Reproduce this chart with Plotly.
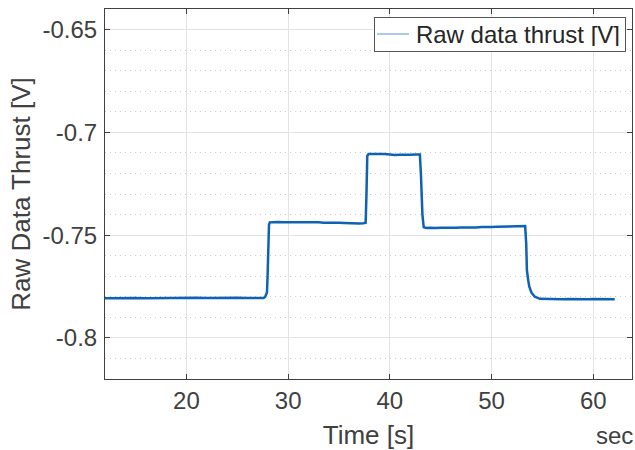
import plotly.graph_objects as go

# Thrust-sensor raw voltage trace: baseline, three load steps, return to baseline
time_s = [
    12.0, 13.0, 14.0, 15.0, 16.0, 17.0, 18.0, 19.0, 20.0, 21.0, 22.0, 23.0,
    24.0, 25.0, 26.0, 27.0, 27.59, 27.75, 27.92, 27.98, 28.05, 28.12, 28.2,
    28.5, 29.0, 29.5, 30.0, 30.5, 31.0, 31.5, 32.0, 32.5, 33.0, 33.5, 34.0,
    34.5, 35.0, 35.5, 36.0, 36.5, 37.0, 37.4, 37.62, 37.7, 37.78, 37.9,
    38.2, 38.5, 39.0, 39.5, 40.0, 40.5, 41.0, 41.5, 42.0, 42.5, 42.95,
    43.05, 43.2, 43.33, 43.6, 44.0, 44.5, 45.0, 45.5, 46.0, 46.5, 47.0,
    47.5, 48.0, 48.5, 49.0, 49.5, 50.0, 50.5, 51.0, 51.5, 52.0, 52.5, 53.0,
    53.3, 53.4, 53.47, 53.6, 53.7, 53.92, 54.25, 54.74, 55.2, 55.8, 56.5,
    57.0, 57.5, 58.0, 58.5, 59.0, 59.5, 60.0, 60.5, 61.0, 61.5, 62.1,
]
thrust_v = [
    -0.7807, -0.7806, -0.7808, -0.7806, -0.7807, -0.7806, -0.7805, -0.7807,
    -0.7806, -0.7805, -0.7806, -0.7805, -0.7806, -0.7805, -0.7806, -0.7806,
    -0.7806, -0.7800, -0.7778, -0.7700, -0.7500, -0.7450, -0.7438,
    -0.7437, -0.7436, -0.7438, -0.7437, -0.7436, -0.7435, -0.7437, -0.7438,
    -0.7437, -0.7438, -0.7440, -0.7439, -0.7441, -0.7440, -0.7441, -0.7443,
    -0.7442, -0.7444, -0.7442, -0.7440, -0.7300, -0.7115, -0.7106,
    -0.7105, -0.7104, -0.7106, -0.7105, -0.7108, -0.7110, -0.7109, -0.7110,
    -0.7109, -0.7108, -0.7108,
    -0.7200, -0.7400, -0.7462, -0.7465, -0.7464, -0.7466, -0.7464, -0.7465,
    -0.7466, -0.7464, -0.7463, -0.7464, -0.7462, -0.7463, -0.7461, -0.7462,
    -0.7460, -0.7459, -0.7458, -0.7457, -0.7456, -0.7457, -0.7456,
    -0.7456, -0.7540, -0.7670, -0.7720, -0.7750, -0.7780, -0.7800, -0.7810,
    -0.7811, -0.7812, -0.7811, -0.7812, -0.7811, -0.7812, -0.7812, -0.7811,
    -0.7812, -0.7811, -0.7812, -0.7812, -0.7811, -0.7812,
]

x_ticks = [20, 30, 40, 50, 60]
y_ticks = [-0.8, -0.75, -0.7, -0.65]
y_tick_text = ["-0.8", "-0.75", "-0.7", "-0.65"]
legend_label = "Raw data thrust [V]"

FONT = "Liberation Sans, Arial, Helvetica, sans-serif"
LINE_BLUE = "#0e62b3"
AXIS_GREY = "#404040"

fig = go.Figure()

fig.add_trace(go.Scatter(
    x=time_s, y=thrust_v, mode="lines",
    line=dict(color=LINE_BLUE, width=2.5),
    name=legend_label, showlegend=False,
))

axis_common = dict(
    showline=True, linecolor=AXIS_GREY, linewidth=1, mirror="ticks",
    ticks="inside", ticklen=5, tickcolor=AXIS_GREY, tickwidth=1,
    showgrid=True, gridcolor="#e3e3e3", gridwidth=1, zeroline=False,
    tickfont=dict(family=FONT, size=24, color=AXIS_GREY),
)

fig.update_xaxes(
    range=[12.0, 63.8], tickvals=x_ticks, ticklabelstandoff=0,
    title=dict(text="Time [s]", font=dict(family=FONT, size=26, color=AXIS_GREY), standoff=14),
    **axis_common,
)
fig.update_yaxes(
    range=[-0.82, -0.64], tickvals=y_ticks, ticktext=y_tick_text, ticklabelstandoff=2,
    minor=dict(dtick=0.01, tick0=-0.8, showgrid=True, gridcolor="#cdcdcd",
               griddash="1px,4px", gridwidth=1, ticks=""),
    title=dict(text="Raw Data Thrust [V]", font=dict(family=FONT, size=26, color=AXIS_GREY), standoff=4),
    **axis_common,
)

# Boxed legend in the upper-right corner: white box, short line sample, label
fig.add_shape(
    type="rect", xref="paper", yref="paper",
    x0=0.5085, x1=0.9886, y0=0.8838, y1=0.9784,
    fillcolor="white", line=dict(width=0),
)
fig.add_shape(
    type="line", xref="paper", yref="paper",
    x0=0.5161, x1=0.5769, y0=0.9324, y1=0.9324,
    line=dict(color="#5a93d0", width=1.2),
)
fig.add_annotation(
    text=legend_label, xref="paper", yref="paper", x=0.9886, y=0.9784,
    xanchor="right", yanchor="top", showarrow=False,
    width=240, height=23, align="right", valign="middle",
    bgcolor="rgba(0,0,0,0)", bordercolor="#555555", borderwidth=1, borderpad=5,
    font=dict(family=FONT, size=24, color="#262626"),
)

fig.add_annotation(
    text="sec", xref="paper", yref="paper", x=1.006, y=-0.154,
    xanchor="right", yanchor="middle", showarrow=False,
    font=dict(family=FONT, size=24, color=AXIS_GREY),
)

fig.update_layout(
    width=635, height=450,
    margin=dict(l=105, r=3, t=9, b=71, autoexpand=False),
    paper_bgcolor="white", plot_bgcolor="white",
    showlegend=False,
)

fig.write_html("out.html")
